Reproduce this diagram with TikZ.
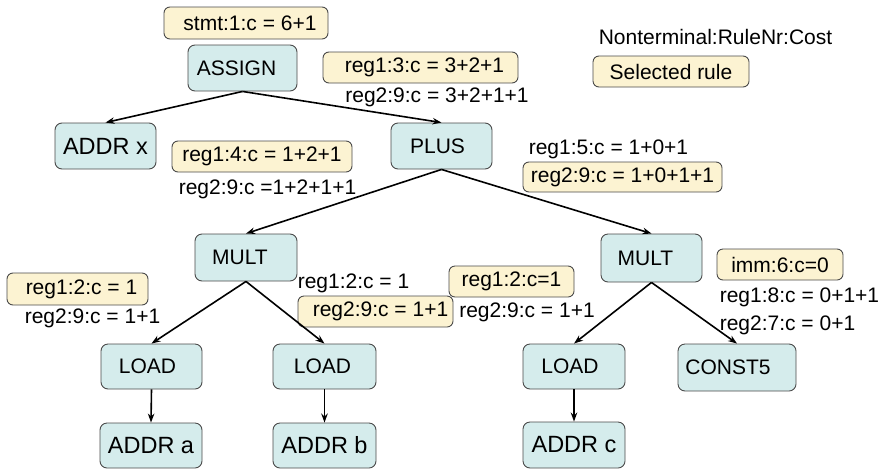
\documentclass[tikz,border=0pt]{standalone}
\usepackage{fontspec}
\setmainfont{Liberation Sans}
\usetikzlibrary{arrows.meta}
\definecolor{nodefill}{HTML}{D5ECEC}
\definecolor{rulefill}{HTML}{FCF3D2}
\definecolor{edgegray}{HTML}{4A4A4A}
\tikzset{
  treenode/.style={draw=edgegray, line width=0.9pt, fill=nodefill, rounded corners=7pt,
    inner sep=0pt, font=\fontsize{21}{25}\selectfont},
  addrnode/.style={treenode, font=\fontsize{23.5}{28}\selectfont},
  rulebox/.style={draw=edgegray, line width=0.9pt, fill=rulefill, rounded corners=6pt,
    inner sep=0pt, font=\fontsize{21}{25}\selectfont},
  costtext/.style={inner sep=0pt, font=\fontsize{21}{25}\selectfont},
  edge/.style={line width=1.6pt, -{Stealth[length=9pt,width=6.5pt]}}
}
% shift a node's text to the left by twice the given amount
\newcommand{\lefttext}[2]{#2\hspace*{#1}}
\begin{document}
\begin{tikzpicture}[x=1pt,y=-1pt]
\useasboundingbox (0,0) rectangle (882,469);

% tree nodes
\node[treenode, minimum width=109pt, minimum height=46pt] (assign) at (242.5,68) {\lefttext{12pt}{ASSIGN}};
\node[addrnode, minimum width=101pt, minimum height=46pt] (addrx) at (105.5,146) {ADDR x};
\node[treenode, minimum width=101pt, minimum height=46pt] (plus) at (441.5,146) {\lefttext{8pt}{PLUS}};
\node[treenode, minimum width=102pt, minimum height=47pt] (multl) at (246,257.5) {\lefttext{12pt}{MULT}};
\node[treenode, minimum width=101pt, minimum height=48pt] (multr) at (651.5,258) {\lefttext{12pt}{MULT}};
\node[treenode, minimum width=101pt, minimum height=45pt] (loada) at (151.5,366.5) {\lefttext{8pt}{LOAD}};
\node[treenode, minimum width=103pt, minimum height=45pt] (loadb) at (324.5,366.5) {\lefttext{4pt}{LOAD}};
\node[treenode, minimum width=102pt, minimum height=45pt] (loadc) at (574,366.5) {\lefttext{8pt}{LOAD}};
\node[treenode, minimum width=118pt, minimum height=47pt] (const) at (737,367.5) {\lefttext{18pt}{CONST5}};
\node[addrnode, minimum width=102pt, minimum height=45pt] (addra) at (151,445.5) {ADDR a};
\node[addrnode, minimum width=103pt, minimum height=45pt] (addrb) at (324.5,445.5) {ADDR b};
\node[addrnode, minimum width=102pt, minimum height=46pt] (addrc) at (574,445) {ADDR c};

% selected rules and costs
\node[rulebox, minimum width=164pt, minimum height=32pt] (stmt) at (246,23) {\hspace*{8pt}stmt:1:c = 6+1};
\node[rulebox, minimum width=195pt, minimum height=31pt] (plusr1) at (420.5,67.5) {\hspace*{8pt}reg1:3:c = 3+2+1};
\node[costtext] (plusr2) at (437,97) {reg2:9:c = 3+2+1+1};
\node[rulebox, minimum width=180pt, minimum height=31pt] (mulr1) at (262,156.5) {reg1:4:c = 1+2+1};
\node[costtext] (mulr2) at (267.5,189) {reg2:9:c =1+2+1+1};
\node[costtext] (multrr1) at (608.5,149) {reg1:5:c = 1+0+1};
\node[rulebox, minimum width=199pt, minimum height=30pt] (multrr2) at (622.5,177) {reg2:9:c = 1+0+1+1};
\node[rulebox, minimum width=141pt, minimum height=32pt] (ldar1) at (77.5,289) {\hspace*{8pt}reg1:2:c = 1};
\node[costtext] (ldar2) at (92.5,318) {reg2:9:c = 1+1};
\node[costtext] (ldbr1) at (353.5,283) {reg1:2:c = 1};
\node[rulebox, minimum width=155pt, minimum height=31pt] (ldbr2) at (375.5,311.5) {\hspace*{10pt}reg2:9:c = 1+1};
\node[rulebox, minimum width=125pt, minimum height=31pt] (ldcr1) at (511.5,281.5) {reg1:2:c=1};
\node[costtext] (ldcr2) at (527,312) {reg2:9:c = 1+1};
\node[rulebox, minimum width=126pt, minimum height=31pt] (immr) at (780,264.5) {imm:6:c=0};
\node[costtext] (constr1) at (799.5,297) {reg1:8:c = 0+1+1};
\node[costtext] (constr2) at (787.5,325) {reg2:7:c = 0+1};

% legend
\node[costtext] (legendtext) at (715.5,37) {Nonterminal:RuleNr:Cost};
\node[rulebox, minimum width=156pt, minimum height=31pt] (legendbox) at (671,71.5) {Selected rule};

% edges
\draw[edge] (assign.south) -- (addrx.north);
\draw[edge] (assign.south) -- (plus.north);
\draw[edge] (plus.south) -- (multl.north);
\draw[edge] (plus.south) -- (multr.north);
\draw[edge] (multl.south) -- (loada.north);
\draw[edge] (multl.south) -- (loadb.north);
\draw[edge] (multr.south) -- (loadc.north);
\draw[edge] (multr.south) -- (const.north);
\draw[edge] (loada.south) -- (addra.north);
\draw[edge] (loadb.south) -- (addrb.north);
\draw[edge] (loadc.south) -- (addrc.north);
\end{tikzpicture}
\end{document}
